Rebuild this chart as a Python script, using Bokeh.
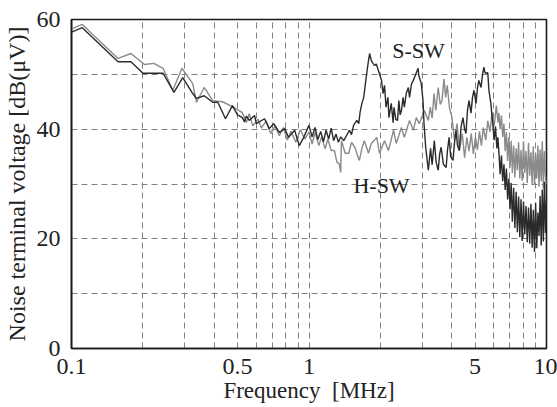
from bokeh.plotting import figure
from bokeh.models import FixedTicker, CustomJSTickFormatter, Range1d
from bokeh.core.properties import value
from bokeh.embed import file_html
from bokeh.resources import INLINE

# ---- data (frequency in MHz, level in dB(uV)) ----
s_sw_freq = [0.100, 0.111, 0.157, 0.178, 0.200, 0.243, 0.270, 0.294, 0.324, 0.336,
             0.362, 0.393, 0.413, 0.445, 0.476, 0.500, 0.524, 0.535, 0.545, 0.560,
             0.590, 0.600, 0.650, 0.680, 0.710, 0.750, 0.790, 0.820, 0.870, 0.910,
             0.950, 1.000, 1.030, 1.060, 1.090, 1.120, 1.150, 1.180, 1.210, 1.240,
             1.270, 1.300, 1.330, 1.360, 1.400, 1.480, 1.510, 1.540, 1.590, 1.620,
             1.640, 1.670, 1.700, 1.750, 1.780, 1.800, 1.830, 1.860, 1.890, 1.920,
             1.960, 2.020, 2.050, 2.080, 2.110, 2.150, 2.170, 2.220, 2.260, 2.280,
             2.320, 2.360, 2.390, 2.420, 2.450, 2.490, 2.520, 2.570, 2.620, 2.650,
             2.700, 2.750, 2.780, 2.830, 2.880, 2.900, 2.970, 3.020, 3.050, 3.100,
             3.180, 3.250, 3.300, 3.370, 3.430, 3.500, 3.550, 3.600, 3.680, 3.780,
             3.830, 3.890, 3.950, 4.040, 4.100, 4.160, 4.220, 4.290, 4.370, 4.450,
             4.520, 4.580, 4.650, 4.720, 4.810, 4.880, 4.950, 5.050, 5.120, 5.190,
             5.300, 5.380, 5.450, 5.500, 5.550, 5.660, 5.720, 5.830, 5.940, 6.020,
             6.100, 6.180, 6.240,
             6.30, 6.38, 6.46, 6.54, 6.62, 6.70, 6.78, 6.86, 6.94, 7.02,
             7.10, 7.18, 7.27, 7.36, 7.45, 7.54, 7.63, 7.72, 7.81, 7.90,
             8.00, 8.10, 8.20, 8.30, 8.40, 8.50, 8.60, 8.70, 8.80, 8.90,
             9.00, 9.10, 9.20, 9.30, 9.40, 9.50, 9.60, 9.70, 9.80, 9.90,
             10.0]
s_sw_db = [57.7, 58.5, 52.3, 52.3, 50.2, 50.2, 46.7, 49.4, 46.5, 45.6,
           46.1, 44.9, 44.9, 41.9, 44.3, 42.6, 42.1, 41.3, 42.4, 41.6,
           42.5, 41.0, 41.9, 40.1, 41.0, 39.4, 40.1, 38.5, 39.8, 37.0,
           38.5, 40.7, 38.6, 40.3, 38.1, 39.6, 37.7, 39.8, 38.2, 40.2,
           37.9, 39.1, 37.6, 38.6, 37.9, 39.8, 39.0, 40.7, 41.6, 41.0,
           43.0, 44.7, 45.8, 50.2, 52.5, 53.8, 52.5, 52.0, 51.6, 51.9,
           50.7, 48.9, 46.5, 48.0, 44.0, 45.8, 42.1, 44.7, 41.2, 44.0,
           41.8, 41.6, 45.2, 42.6, 43.4, 45.8, 44.0, 46.6, 47.6, 45.8,
           48.2, 48.9, 49.4, 50.3, 51.1, 49.8, 48.3, 45.2, 41.0, 36.7,
           32.5, 36.5, 33.5, 37.9, 34.0, 32.5, 35.5, 36.7, 33.6, 33.0,
           36.2, 38.5, 35.0, 34.3, 37.6, 39.8, 37.0, 36.1, 40.5, 42.1,
           40.0, 39.2, 43.5, 45.2, 42.9, 45.8, 47.1, 44.7, 47.5, 48.9,
           47.6, 50.0, 51.3, 50.4, 50.2, 50.3, 47.1, 44.7, 41.0, 38.0,
           40.5, 36.5, 38.5,
           36.0, 31.8, 35.2, 30.5, 33.6, 28.9, 32.8, 27.2, 31.0, 25.4,
           30.2, 23.1, 29.3, 22.0, 28.6, 21.2, 27.7, 20.3, 27.2, 19.6,
           26.8, 20.8, 26.0, 19.4, 25.7, 19.1, 26.4, 18.4, 25.3, 17.6,
           26.6, 18.3, 24.8, 20.5, 27.8, 18.8, 29.0, 19.5, 30.4, 21.0,
           27.0]

h_sw_freq = [0.100, 0.111, 0.157, 0.178, 0.203, 0.222, 0.243, 0.267, 0.292, 0.324,
             0.336, 0.362, 0.393, 0.432, 0.476, 0.524, 0.545, 0.560, 0.580, 0.610,
             0.630, 0.660, 0.690, 0.720, 0.750, 0.780, 0.810, 0.840, 0.880, 0.920,
             0.960, 1.000, 1.030, 1.060, 1.100, 1.130, 1.170, 1.200, 1.240, 1.280,
             1.310, 1.340, 1.360, 1.370, 1.420, 1.470, 1.510, 1.560, 1.600, 1.630,
             1.670, 1.710, 1.780, 1.830, 1.930, 1.980, 2.080, 2.160, 2.270, 2.330,
             2.450, 2.520, 2.650, 2.750, 2.830, 2.910, 3.060, 3.180, 3.240, 3.300,
             3.360, 3.420, 3.500, 3.570, 3.630, 3.700, 3.760, 3.820, 3.900, 4.000,
             4.100, 4.200, 4.300, 4.420, 4.520, 4.620, 4.720, 4.820, 4.920, 5.020,
             5.120, 5.220, 5.320, 5.420, 5.550, 5.660, 5.780, 5.900, 6.020, 6.150,
             6.250,
             6.30, 6.38, 6.46, 6.54, 6.62, 6.70, 6.78, 6.86, 6.94, 7.02,
             7.10, 7.18, 7.27, 7.36, 7.45, 7.54, 7.63, 7.72, 7.81, 7.90,
             8.00, 8.10, 8.20, 8.30, 8.40, 8.50, 8.60, 8.70, 8.80, 8.90,
             9.00, 9.10, 9.20, 9.30, 9.40, 9.50, 9.60, 9.70, 9.80, 9.90,
             10.0]
h_sw_db = [58.3, 59.1, 52.9, 53.8, 51.8, 52.0, 51.1, 47.1, 51.1, 48.3,
           44.9, 47.6, 45.2, 45.0, 44.1, 43.0, 41.2, 42.8, 40.6, 41.8,
           40.2, 41.5, 39.2, 40.6, 38.8, 40.3, 38.0, 39.6, 37.6, 39.9,
           38.2, 39.5, 37.3, 39.4, 37.0, 38.6, 36.4, 38.2, 36.1, 36.1,
           34.0, 33.7, 32.1, 37.9, 35.6, 35.6, 37.6, 36.7, 35.2, 34.3,
           36.5, 37.9, 35.6, 37.4, 38.5, 35.6, 37.9, 36.1, 39.8, 37.4,
           40.3, 38.5, 41.6, 39.8, 42.1, 41.0, 43.4, 41.6, 44.0, 42.0,
           46.5, 43.4, 47.6, 44.5, 45.2, 49.2, 45.8, 48.0, 44.0, 42.1,
           37.9, 41.0, 36.1, 39.2, 34.8, 38.5, 36.0, 39.2, 35.5, 38.6,
           36.2, 39.6, 37.0, 40.3, 38.0, 41.5, 39.5, 43.0, 40.6, 44.3,
           41.2,
           43.0, 40.0, 42.5, 38.6, 41.0, 36.0, 39.5, 34.2, 38.5, 33.0,
           37.9, 32.0, 37.0, 31.2, 36.5, 32.5, 37.6, 31.0, 36.2, 30.6,
           37.8, 32.0, 36.0, 30.2, 37.5, 31.5, 35.8, 30.0, 36.9, 29.8,
           35.5, 31.0, 37.0, 29.5, 36.3, 30.5, 37.8, 29.2, 36.0, 31.5,
           30.0]

x_tick_values = [0.1, 0.5, 1, 5, 10]
x_grid_values = [0.2, 0.3, 0.4, 0.5, 0.6, 0.7, 0.8, 0.9, 1, 2, 3, 4, 5, 6, 7, 8, 9]
y_tick_values = [0, 20, 40, 60]
y_grid_values = [10, 20, 30, 40, 50]
series_labels = ["S-SW", "H-SW"]

SERIF = "Liberation Serif"

p = figure(width=557, height=407, x_axis_type="log",
           x_range=Range1d(0.1, 10), y_range=Range1d(0, 60),
           output_backend="svg", toolbar_location=None,
           min_border_left=68, min_border_right=11,
           min_border_top=19, min_border_bottom=59)

p.background_fill_color = "white"
p.border_fill_color = "white"
p.outline_line_color = "#1a1a1a"
p.outline_line_width = 1.6

# grids
p.xgrid[0].ticker = FixedTicker(ticks=x_grid_values)
p.ygrid[0].ticker = FixedTicker(ticks=y_grid_values)
for g in (p.xgrid[0], p.ygrid[0]):
    g.grid_line_color = "#808080"
    g.grid_line_dash = "6 4"
    g.grid_line_width = 1

# axes
p.xaxis.ticker = FixedTicker(ticks=x_tick_values)
p.yaxis.ticker = FixedTicker(ticks=y_tick_values)
p.xaxis.formatter = CustomJSTickFormatter(code="return String(tick);")
for ax in (p.xaxis[0], p.yaxis[0]):
    ax.axis_line_color = "#1a1a1a"
    ax.axis_line_width = 1.6
    ax.major_tick_line_color = None
    ax.minor_tick_line_color = None
    ax.major_label_text_font = SERIF
    ax.major_label_text_font_size = "24px"
    ax.major_label_text_color = "#222222"
    ax.axis_label_text_font = SERIF
    ax.axis_label_text_font_style = "normal"
    ax.axis_label_text_color = "#222222"

p.xaxis.axis_label = "Frequency\u00a0 [MHz]"
p.yaxis.axis_label = "Noise terminal voltage [dB(\u03bcV)]"
p.xaxis.axis_label_text_font_size = "23px"
p.yaxis.axis_label_text_font_size = "24px"
p.xaxis.major_label_standoff = 4
p.xaxis.axis_label_standoff = 1
p.yaxis.major_label_standoff = 5
p.yaxis.axis_label_standoff = 4

# series
p.line(h_sw_freq, h_sw_db, line_color="#8a8a8a", line_width=1.4)
p.line(s_sw_freq, s_sw_db, line_color="#2b2b2b", line_width=1.4)

p.text(x=[2.89, 2.02], y=[54.3, 29.7], text=series_labels,
       text_font=value(SERIF), text_font_size="22px", text_color="#222222",
       text_align="center", text_baseline="middle")

open("out.html", "w").write(file_html(p, INLINE))
